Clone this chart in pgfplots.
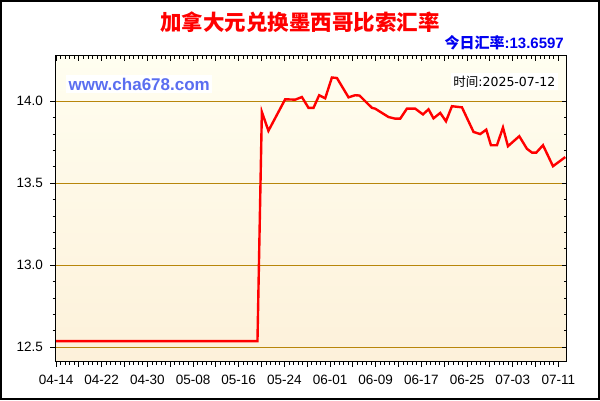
\documentclass[border=0pt]{standalone}
\usepackage{pgfplots}
\pgfplotsset{compat=1.18}
\usepackage{fontspec}
\setmainfont{Liberation Sans}
\newfontfamily\cjk{Noto Sans CJK SC}
\newfontfamily\dejavu{DejaVu Sans}
\newfontfamily\libbold{Liberation Sans Bold}
\definecolor{gridc}{RGB}{184,134,11}
\definecolor{bgtop}{RGB}{255,254,240}
\definecolor{bgbot}{RGB}{253,241,218}
\definecolor{wwwc}{RGB}{90,110,240}
\definecolor{bluec}{RGB}{0,0,240}
\pgfplotstableread{
day val
0.0 12.537
35.28 12.537
36.05 13.935
37.2 13.820
40.13 14.012
41.9 14.010
43.06 14.026
44.22 13.960
45.1 13.960
46.09 14.037
47.14 14.018
48.32 14.145
49.2 14.142
51.23 14.024
52.4 14.037
53.15 14.035
55.33 13.960
55.9 13.955
58.24 13.904
59.41 13.894
60.29 13.894
61.46 13.955
62.92 13.955
64.27 13.920
65.25 13.951
66.12 13.896
67.3 13.929
68.3 13.878
69.35 13.970
71.1 13.963
73.13 13.813
74.31 13.800
75.36 13.827
76.18 13.732
77.23 13.732
78.29 13.840
79.16 13.726
81.14 13.787
82.49 13.710
83.37 13.687
84.12 13.687
85.3 13.732
87.05 13.604
89.2 13.6597
}\ratedata
\begin{document}
\begin{tikzpicture}[x=1pt,y=1pt]
\useasboundingbox (0,0) rectangle (600,400);
\fill[white] (0,0) rectangle (600,400);
\pgfplotsset{
  common/.style={
    at={(55.5pt,38.5pt)}, anchor=south west, scale only axis,
    width=511.2pt, height=305.8pt,
    xmin=-0.1, xmax=89.45, ymin=12.413, ymax=14.278,
    xtick={0,4,...,88}, minor x tick num=4,
    ytick={12.5,13,13.5,14}, minor y tick num=4,
    major tick length=5pt, minor tick length=3pt,
    tick style={black, line width=0.9pt},
    axis line style={black, line width=1.2pt},
  }
}
\begin{axis}[common,
  axis background/.style={shade, top color=bgtop, bottom color=bgbot},
  xticklabels={04-14,,04-22,,04-30,,05-08,,05-16,,05-24,,06-01,,06-09,,06-17,,06-25,,07-03,,07-11},
  yticklabels={12.5,13.0,13.5,14.0},
  xtick pos=lower, ytick pos=left, tick align=outside,
  ymajorgrids, major grid style={gridc, line width=1.2pt},
  ticklabel style={font=\fontsize{13.5}{15}\selectfont, text=black},
  yticklabel style={xshift=-4pt},
  xticklabel style={yshift=-5pt},
]
\addplot[red, line width=2.4pt, mark=none] table[x=day,y=val] {\ratedata};
\end{axis}
\begin{axis}[common,
  xticklabels={}, yticklabels={},
  xtick pos=upper, ytick pos=right, tick align=inside,
]
\end{axis}
\node[font=\cjk\bfseries\fontsize{21.5}{24}\selectfont, text=red] at (300,378) {加拿大元兑换墨西哥比索汇率};
\node[anchor=east, inner sep=0pt, text=bluec, font=\fontsize{15}{17}\selectfont] at (564,357.5) {{\cjk\bfseries 今日汇率}{\libbold :13.6597}};
\node[anchor=west, fill=white, inner sep=2.5pt, text=wwwc, font=\fontsize{17}{19}\selectfont\libbold] at (66,316) {www.cha678.com};
\node[anchor=east, fill=white, inner sep=2.5pt, text=black, font=\fontsize{12.5}{14}\selectfont] at (558,318.3) {{\cjk 时间}\dejavu :2025-07-12};
\draw[black, line width=2pt] (1,1) rectangle (599,399);
\end{tikzpicture}
\end{document}
